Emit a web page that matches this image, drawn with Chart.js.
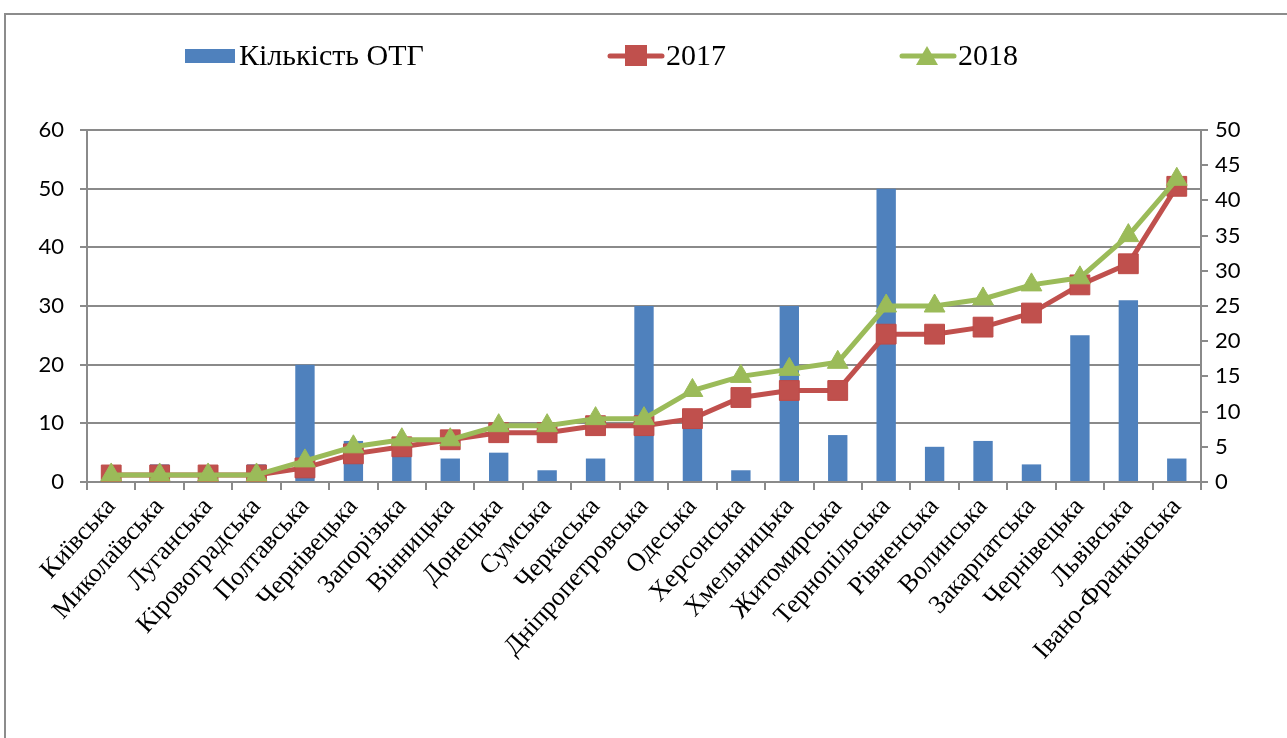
<!DOCTYPE html>
<html>
<head>
<meta charset="utf-8">
<script src="https://cdn.jsdelivr.net/npm/chart.js@4/dist/chart.umd.min.js"></script>
<style>
    body { margin: 0; background: #fff; }
    #wrap { width: 1287px; height: 738px; position: relative; }
</style>
</head>
<body>
<div id="wrap"><canvas id="otg-chart"></canvas></div>
<script>
// області, відсортовані за кількістю ОТГ 2018
var regions = ['Київська', 'Миколаївська', 'Луганська', 'Кіровоградська', 'Полтавська',
    'Чернівецька', 'Запорізька', 'Вінницька', 'Донецька', 'Сумська', 'Черкаська',
    'Дніпропетровська', 'Одеська', 'Херсонська', 'Хмельницька', 'Житомирська',
    'Тернопільська', 'Рівненська', 'Волинська', 'Закарпатська', 'Чернівецька',
    'Львівська', 'Івано-Франківська'];

var otgCount = [1, 3, 1, 3, 20, 7, 6, 4, 5, 2, 4, 30, 11, 2, 30, 8, 50, 6, 7, 3, 25, 31, 4];
var share2017 = [1, 1, 1, 1, 2, 4, 5, 6, 7, 7, 8, 8, 9, 12, 13, 13, 21, 21, 22, 24, 28, 31, 42];
var share2018 = [1, 1, 1, 1, 3, 5, 6, 6, 8, 8, 9, 9, 13, 15, 16, 17, 25, 25, 26, 28, 29, 35, 43];

var leftTicks = {min: 0, max: 60, step: 10};
var rightTicks = {min: 0, max: 50, step: 5};

var gridGrey = '#8a8a8a';
var tickFont = {family: 'Lato', size: 22};

// рамка діаграми + легенда вгорі (як в Excel)
var frameAndLegend = {
    id: 'frameAndLegend',
    beforeDraw: function(chart) {
        var ctx = chart.ctx;
        ctx.save();
        ctx.fillStyle = '#fff';
        ctx.fillRect(0, 0, chart.width, chart.height);
        ctx.strokeStyle = '#8c8c8c';
        ctx.lineWidth = 2;
        ctx.beginPath();
        ctx.moveTo(5, chart.height + 5);
        ctx.lineTo(5, 14);
        ctx.lineTo(chart.width + 5, 14);
        ctx.stroke();
        ctx.restore();
    },
    afterDraw: function(chart) {
        var ctx = chart.ctx;
        var sets = chart.data.datasets;
        var xs = [185, 608, 900];
        var y = 56;
        ctx.save();
        ctx.font = '30px "Liberation Serif"';
        ctx.textBaseline = 'middle';

        // bar item
        ctx.fillStyle = sets[0].backgroundColor;
        ctx.fillRect(xs[0], y - 7, 50, 14);
        ctx.fillStyle = '#000';
        ctx.fillText(sets[0].label, xs[0] + 54, y + 1);

        for (var i = 1; i < 3; i++) {
            var x = xs[i];
            ctx.strokeStyle = sets[i].borderColor;
            ctx.lineWidth = 5;
            ctx.lineCap = 'round';
            ctx.beginPath();
            ctx.moveTo(x + 2, y);
            ctx.lineTo(x + 54, y);
            ctx.stroke();
            ctx.fillStyle = sets[i].pointBackgroundColor;
            ctx.beginPath();
            if (sets[i].pointStyle == 'rect') {
                ctx.rect(x + 17, y - 11, 22, 21);
            } else {
                ctx.moveTo(x + 27, y - 10);
                ctx.lineTo(x + 38, y + 9);
                ctx.lineTo(x + 16, y + 9);
                ctx.closePath();
            }
            ctx.fill();
            ctx.fillStyle = '#000';
            ctx.fillText(sets[i].label, x + 58, y + 1);
        }
        ctx.restore();
    }
};

var ctx = document.getElementById('otg-chart').getContext('2d');
var otgChart = new Chart(ctx, {
    type: 'bar',
    data: {
        labels: regions,
        datasets: [{
            type: 'bar',
            label: 'Кількість ОТГ',
            data: otgCount,
            yAxisID: 'y',
            backgroundColor: '#4f81bd',
            barPercentage: 0.4,
            categoryPercentage: 1,
            order: 3
        }, {
            type: 'line',
            label: '2017',
            data: share2017,
            yAxisID: 'y1',
            borderColor: '#c0504d',
            borderWidth: 5,
            pointStyle: 'rect',
            pointRadius: 14,
            pointBackgroundColor: '#c0504d',
            pointBorderColor: '#bd4a47',
            pointBorderWidth: 1,
            order: 2
        }, {
            type: 'line',
            label: '2018',
            data: share2018,
            yAxisID: 'y1',
            borderColor: '#9bbb59',
            borderWidth: 5,
            pointStyle: 'triangle',
            pointRadius: 12,
            pointBackgroundColor: '#9bbb59',
            pointBorderColor: '#9bbb59',
            pointBorderWidth: 1,
            order: 1
        }]
    },
    options: {
        responsive: true,
        maintainAspectRatio: false,
        animation: false,
        layout: {
            padding: {top: 130, left: 0, right: 0, bottom: 0}
        },
        plugins: {
            legend: {display: false},
            tooltip: {enabled: false}
        },
        scales: {
            x: {
                grid: {offset: true, drawOnChartArea: false, color: gridGrey, lineWidth: 2, tickLength: 8},
                border: {color: gridGrey, width: 2},
                ticks: {
                    autoSkip: false,
                    maxRotation: 48,
                    minRotation: 48,
                    color: '#000',
                    padding: 2,
                    font: {family: 'Liberation Serif', size: 26}
                },
                afterFit: function(scale) { scale.height = 256; }
            },
            y: {
                position: 'left',
                min: leftTicks.min,
                max: leftTicks.max,
                ticks: {stepSize: leftTicks.step, color: '#000', font: tickFont, padding: 16},
                grid: {color: gridGrey, lineWidth: 2, tickLength: 7},
                border: {color: gridGrey, width: 2},
                afterFit: function(scale) { scale.width = 87; }
            },
            y1: {
                position: 'right',
                min: rightTicks.min,
                max: rightTicks.max,
                ticks: {stepSize: rightTicks.step, color: '#000', font: tickFont, padding: 7},
                grid: {drawOnChartArea: false, color: gridGrey, lineWidth: 2, tickLength: 7},
                border: {color: gridGrey, width: 2},
                afterFit: function(scale) { scale.width = 86; }
            }
        }
    },
    plugins: [frameAndLegend]
});
</script>
</body>
</html>
